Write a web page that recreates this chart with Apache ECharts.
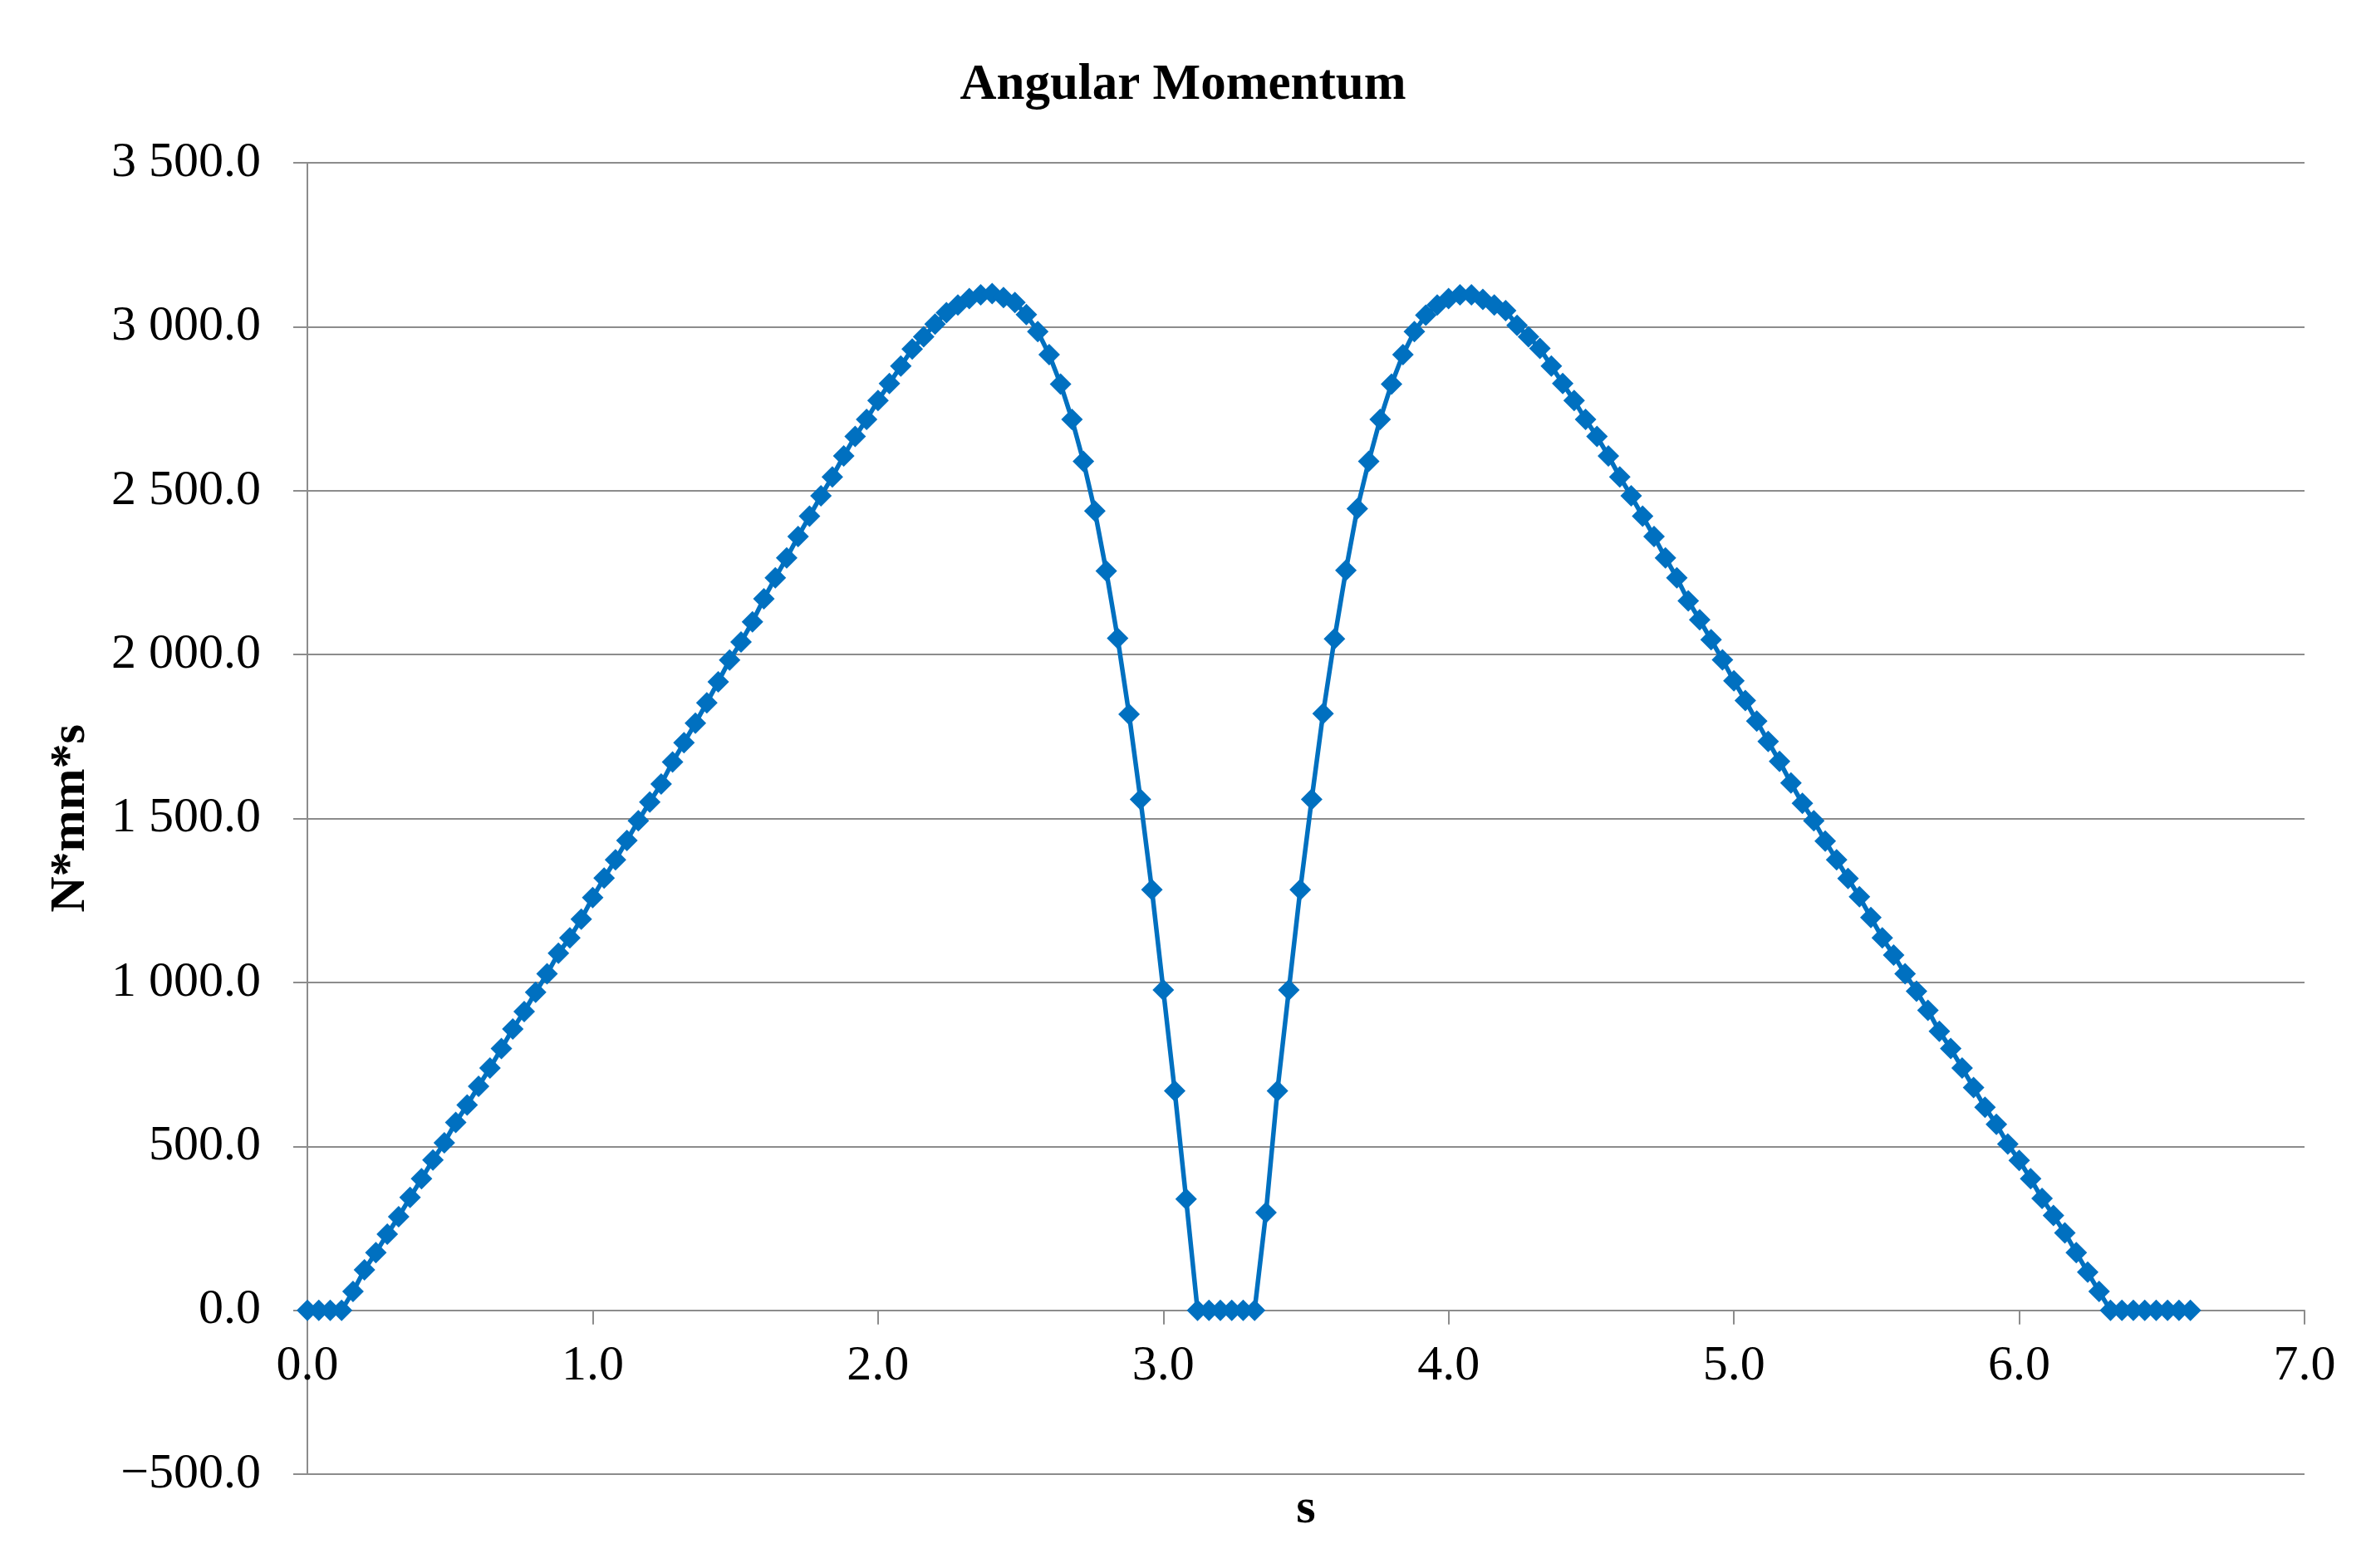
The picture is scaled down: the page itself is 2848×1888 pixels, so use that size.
<!DOCTYPE html>
<html>
<head>
<meta charset="utf-8">
<script src="https://cdn.jsdelivr.net/npm/echarts@6/dist/echarts.min.js"></script>
<style>
html,body{margin:0;padding:0;background:#fff;}
#chart{width:2848px;height:1888px;}
</style>
</head>
<body>
<div id="chart"></div>
<script>
var chartTitle = 'Angular Momentum';
var xAxisName = 's';
var yAxisName = 'N*mm*s';

var times = [
0.00,0.04,0.08,0.12,0.16,0.20,0.24,0.28,0.32,0.36,0.40,0.44,0.48,0.52,0.56,0.60,0.64,0.68,0.72,0.76,
0.80,0.84,0.88,0.92,0.96,1.00,1.04,1.08,1.12,1.16,1.20,1.24,1.28,1.32,1.36,1.40,1.44,1.48,1.52,1.56,
1.60,1.64,1.68,1.72,1.76,1.80,1.84,1.88,1.92,1.96,2.00,2.04,2.08,2.12,2.16,2.20,2.24,2.28,2.32,2.36,
2.40,2.44,2.48,2.52,2.56,2.60,2.64,2.68,2.72,2.76,2.80,2.84,2.88,2.92,2.96,3.00,3.04,3.08,3.12,3.16,
3.20,3.24,3.28,3.32,3.36,3.40,3.44,3.48,3.52,3.56,3.60,3.64,3.68,3.72,3.76,3.80,3.84,3.88,3.92,3.96,
4.00,4.04,4.08,4.12,4.16,4.20,4.24,4.28,4.32,4.36,4.40,4.44,4.48,4.52,4.56,4.60,4.64,4.68,4.72,4.76,
4.80,4.84,4.88,4.92,4.96,5.00,5.04,5.08,5.12,5.16,5.20,5.24,5.28,5.32,5.36,5.40,5.44,5.48,5.52,5.56,
5.60,5.64,5.68,5.72,5.76,5.80,5.84,5.88,5.92,5.96,6.00,6.04,6.08,6.12,6.16,6.20,6.24,6.28,6.32,6.36,
6.40,6.44,6.48,6.52,6.56,6.60
];

var angularMomentum = [
0,0,0,0,57,123,176,232,285,344,401,458,511,573,626,683,739,798,858,911,
970,1026,1089,1136,1193,1259,1318,1374,1433,1493,1550,1605,1672,1731,1791,1853,1917,1983,2038,2100,
2170,2234,2295,2360,2422,2484,2542,2606,2665,2717,2775,2827,2880,2932,2969,3008,3043,3066,3086,3097,
3101,3089,3074,3037,2985,2915,2825,2717,2589,2438,2255,2050,1818,1558,1283,977,669,339,0,0,
0,0,0,0,298,669,977,1283,1558,1820,2048,2257,2445,2589,2717,2825,2915,2985,3035,3066,
3086,3097,3097,3083,3066,3049,3004,2969,2934,2880,2827,2775,2717,2665,2606,2542,2484,2422,2360,2295,
2234,2164,2106,2045,1984,1920,1860,1797,1735,1674,1608,1546,1493,1431,1374,1317,1261,1198,1136,1083,
1026,973,915,851,798,739,679,619,567,507,457,401,341,289,236,176,116,57,0,0,
0,0,0,0,0,0
];

var xTickValues = [0,1,2,3,4,5,6,7];
var xTickLabels = ['0.0','1.0','2.0','3.0','4.0','5.0','6.0','7.0'];
var yTickValues = [-500,0,500,1000,1500,2000,2500,3000,3500];
var yTickLabels = ['\u2212500.0','0.0','500.0','1\u00a0000.0','1\u00a0500.0','2\u00a0000.0','2\u00a0500.0','3\u00a0000.0','3\u00a0500.0'];

var seriesData = times.map(function (t, i) { return [t, angularMomentum[i]]; });

var FONT = "'Liberation Serif', 'Times New Roman', serif";
var GRIDC = '#8c8c8c';
var BLUE = '#0070C0';

var GRID_TOP = 196, GRID_BOTTOM = 113, H = 1888;
// x axis sits on the value 0 line: one interval (500 of 4000) above the bottom
var zeroOffset = -(H - GRID_TOP - GRID_BOTTOM) * 500 / 4000;

var chart = echarts.init(document.getElementById('chart'), null, {renderer: 'canvas'});
chart.setOption({
  animation: false,
  backgroundColor: '#ffffff',
  title: {
    text: chartTitle,
    left: 'center',
    top: 68,
    textStyle: {fontFamily: FONT, fontWeight: 'bold', fontSize: 61, color: '#000'}
  },
  grid: {left: 370, right: 74, top: GRID_TOP, bottom: GRID_BOTTOM, containLabel: false, outerBoundsMode: 'none'},
  xAxis: {
    type: 'value',
    position: 'bottom',
    offset: zeroOffset,
    min: 0, max: 7, interval: 1,
    name: xAxisName,
    nameLocation: 'middle',
    nameGap: 210,
    nameMoveOverlap: false,
    nameTextStyle: {fontFamily: FONT, fontWeight: 'bold', fontSize: 60, color: '#000'},
    axisLine: {show: true, onZero: false, lineStyle: {color: GRIDC, width: 2}},
    axisTick: {show: true, inside: false, length: 17, lineStyle: {color: GRIDC, width: 2}},
    splitLine: {show: false},
    axisLabel: {
      margin: 38,
      fontFamily: FONT, fontSize: 60, color: '#000',
      formatter: function (v) { var i = xTickValues.indexOf(v); return i >= 0 ? xTickLabels[i] : ''; }
    }
  },
  yAxis: {
    type: 'value',
    min: -500, max: 3500, interval: 500,
    name: yAxisName,
    nameLocation: 'middle',
    nameGap: 255,
    nameMoveOverlap: false,
    nameTextStyle: {fontFamily: FONT, fontWeight: 'bold', fontSize: 60, color: '#000'},
    axisLine: {show: true, onZero: false, lineStyle: {color: GRIDC, width: 2}},
    axisTick: {show: true, inside: false, length: 17, lineStyle: {color: GRIDC, width: 2}},
    splitLine: {show: true, lineStyle: {color: GRIDC, width: 2}},
    axisLabel: {
      margin: 56,
      fontFamily: FONT, fontSize: 60, color: '#000',
      formatter: function (v) { var i = yTickValues.indexOf(v); return i >= 0 ? yTickLabels[i] : ''; }
    }
  },
  series: [{
    type: 'line',
    data: seriesData,
    clip: false,
    symbol: 'diamond',
    symbolSize: 26,
    showAllSymbol: true,
    lineStyle: {color: BLUE, width: 5.5},
    itemStyle: {color: BLUE, borderWidth: 0}
  }]
});
</script>
</body>
</html>
